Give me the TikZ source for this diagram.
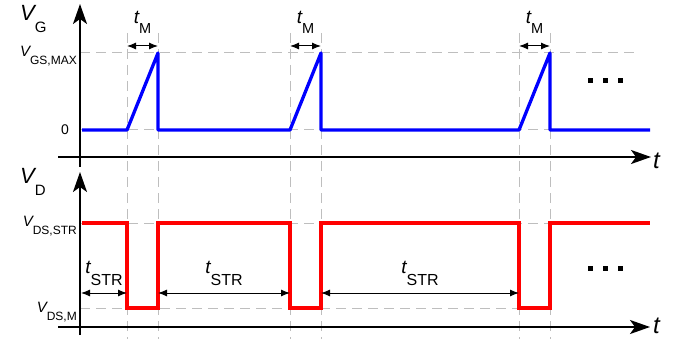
\documentclass[tikz,border=0pt]{standalone}
\usepackage{fontspec}
\setmainfont{Liberation Sans}
\usetikzlibrary{arrows.meta}
\definecolor{gateblue}{RGB}{0,0,255}
\definecolor{drainred}{RGB}{255,0,0}
\definecolor{guidegray}{RGB}{190,190,190}
\tikzset{
    axis/.style={line width=2pt, -{Stealth[length=20pt, width=14pt, inset=5pt]}},
    guide/.style={draw=guidegray, line width=1pt, dash pattern=on 10pt off 6pt},
    gate/.style={draw=gateblue, line width=3.3pt, line join=round},
    drain/.style={draw=drainred, line width=3.3pt},
    span/.style={{Latex[length=9pt, width=7pt]}-{Latex[length=9pt, width=7pt]}, line width=1pt},
    lbl/.style={inner sep=0pt}
}
% symbol with lowered subscript: size, symbol, subsize, subscript, drop
\newcommand{\lab}[5]{{\fontsize{#1}{#1}\selectfont\itshape #2}\raisebox{-#5pt}{\fontsize{#3}{#3}\selectfont #4}}

\begin{document}
\begin{tikzpicture}[x=1pt, y=-1pt]
\useasboundingbox (0,0) rectangle (682,339);

% --- Guide lines ---
\draw[guide] (80,53) -- (640,53);
\draw[guide] (80,130) -- (650,130);
\draw[guide] (80,223) -- (650,223);
\draw[guide] (80,308) -- (550,308);

% --- Pulses: guides and t_M spans ---
\foreach \s [count=\i] in {127,290,519} {
    \coordinate (on\i) at (\s,46);
    \coordinate (off\i) at (\s+31,46);
    \draw[guide] (\s,33) -- (\s,339);
    \draw[guide] (\s+31,33) -- (\s+31,339);
    \draw[span] (on\i) -- (off\i)
        node[midway, lbl, anchor=base, yshift=22pt] {\lab{19}{t}{14.5}{M}{10}};
}

% --- Gate voltage ---
\draw[gate] (82,130) -- (127,130) -- (158,53) -- (158,130)
    -- (290,130) -- (321,53) -- (321,130)
    -- (519,130) -- (550,53) -- (550,130) -- (650,130);

% --- Drain voltage ---
\draw[drain] (82,223) -- (127,223) -- (127,308) -- (158,308) -- (158,223)
    -- (290,223) -- (290,308) -- (321,308) -- (321,223)
    -- (519,223) -- (519,308) -- (550,308) -- (550,223) -- (650,223);

% --- t_STR spans ---
\coordinate (s0) at (81,293);
\coordinate (e0) at (127,293);
\coordinate (s1) at (158,293);
\coordinate (e1) at (290,293);
\coordinate (s2) at (321,293);
\coordinate (e2) at (519,293);
\foreach \i in {0,1,2}
    \draw[span] (s\i) -- (e\i)
        node[midway, lbl, anchor=base, yshift=20pt] {\lab{19}{t}{16}{STR}{12}};

% --- Axes ---
\draw[axis] (80,167) -- (80,4);
\draw[axis] (58,157) -- (651,157);
\draw[axis] (80,335) -- (80,172);
\draw[axis] (58,327) -- (650,327);

% --- Axis labels ---
\node[lbl, anchor=base west] (vg) at (20,21) {\lab{22}{V}{15}{G}{12}};
\node[lbl, anchor=base west] (vd) at (20,184) {\lab{22}{V}{15}{D}{12}};
\node[lbl, anchor=base west] (t1) at (653,168) {\fontsize{24}{24}\selectfont\itshape t};
\node[lbl, anchor=base west] (t2) at (653,333) {\fontsize{24}{24}\selectfont\itshape t};
\node[lbl, anchor=base east] (vmax) at (77,57) {\lab{15}{V}{12}{GS,MAX}{8}};
\node[lbl, anchor=base east] (zero) at (69,135) {\fontsize{14}{14}\selectfont 0};
\node[lbl, anchor=base east] (vstr) at (77,226) {\lab{15}{V}{12}{DS,STR}{8}};
\node[lbl, anchor=base east] (vm) at (77,312) {\lab{15}{V}{12}{DS,M}{8}};

% --- Ellipses ---
\foreach \x in {588,603,618} {
    \fill (\x,78) rectangle ++(5,5);
    \fill (\x,266) rectangle ++(5,5);
}

\end{tikzpicture}
\end{document}
